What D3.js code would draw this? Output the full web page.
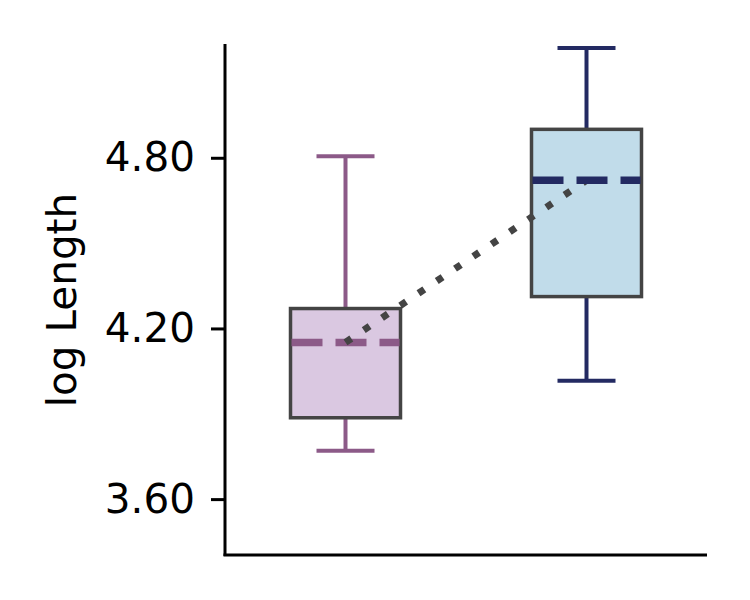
<!DOCTYPE html>
<html><head><meta charset="utf-8">
<script src="https://cdn.jsdelivr.net/npm/d3@7"></script>
<style>body{margin:0;background:#fff}svg{display:block}text{font-family:"DejaVu Sans",sans-serif}</style>
</head><body><svg id="c" width="750" height="600"></svg>
<script>
const categories = ["A", "B"];
const whiskerLow  = [3.770, 4.016];
const q1          = [3.886, 4.312];
const medians     = [4.151, 4.721];
const q3          = [4.270, 4.900];
const whiskerHigh = [4.805, 5.186];
const lineColors  = ["#8c5a88", "#232a62"];
const fillColors  = ["#dac8e1", "#c1dcea"];
const yTicks = [3.6, 4.2, 4.8];
const yLabel = "log Length";

const svg = d3.select("#c");
const mLeft = 225, mRight = 707, mTop = 44, mBottom = 556;
const x = d3.scalePoint().domain(categories).range([mLeft, mRight]).padding(0.5);
const y = d3.scaleLinear().domain([3.4, 5.2]).range([mBottom, mTop]);
const boxW = 110, capW = 58;

const data = categories.map((c, i) => ({c, i, lo: whiskerLow[i], q1: q1[i], med: medians[i], q3: q3[i], hi: whiskerHigh[i]}));

function drawBox(d) {
  const g = svg.append("g");
  const cx = x(d.c);
  g.append("line").attr("x1", cx).attr("x2", cx).attr("y1", y(d.q3)).attr("y2", y(d.hi))
    .attr("stroke", lineColors[d.i]).attr("stroke-width", 4);
  g.append("line").attr("x1", cx).attr("x2", cx).attr("y1", y(d.q1)).attr("y2", y(d.lo))
    .attr("stroke", lineColors[d.i]).attr("stroke-width", 4);
  [d.lo, d.hi].forEach(v => g.append("line").attr("x1", cx - capW/2).attr("x2", cx + capW/2)
    .attr("y1", y(v)).attr("y2", y(v)).attr("stroke", lineColors[d.i]).attr("stroke-width", 4));
  g.append("rect").attr("x", cx - boxW/2).attr("width", boxW).attr("y", y(d.q3)).attr("height", y(d.q1) - y(d.q3))
    .attr("fill", fillColors[d.i]).attr("stroke", "#444444").attr("stroke-width", 3.5);
}
function drawMedian(d) {
  const cx = x(d.c);
  svg.append("line").attr("x1", cx - boxW/2 + 1).attr("x2", cx + boxW/2 - 1).attr("y1", y(d.med)).attr("y2", y(d.med))
    .attr("stroke", lineColors[d.i]).attr("stroke-width", 7.5).attr("stroke-dasharray", "31,13");
}
data.forEach(drawBox);
drawMedian(data[0]);
svg.append("path")
  .attr("d", d3.line().x(d => x(d.c)).y(d => y(d.med))(data))
  .attr("fill", "none").attr("stroke", "#444444").attr("stroke-width", 7).attr("stroke-dasharray", "7,15");
drawMedian(data[1]);

// axes
const yAxis = svg.append("g").attr("transform", `translate(${mLeft},0)`)
  .call(d3.axisLeft(y).tickValues(yTicks).tickFormat(d3.format(".2f")).tickSize(14).tickPadding(16));
yAxis.select(".domain").attr("d", `M0,${mTop}V${mBottom}`).attr("stroke", "#000").attr("stroke-width", 3);
yAxis.selectAll(".tick line").attr("stroke", "#000").attr("stroke-width", 3);
yAxis.selectAll(".tick text").attr("font-size", 40.5).attr("fill", "#000").attr("font-family", "DejaVu Sans");
svg.append("line").attr("x1", mLeft - 1.5).attr("x2", mRight).attr("y1", mBottom - 1).attr("y2", mBottom - 1)
  .attr("stroke", "#000").attr("stroke-width", 3);

svg.append("text").attr("transform", `translate(76,${(mTop + mBottom)/2}) rotate(-90)`)
  .attr("text-anchor", "middle").attr("font-size", 40.5).attr("fill", "#000").text(yLabel);
</script></body></html>
